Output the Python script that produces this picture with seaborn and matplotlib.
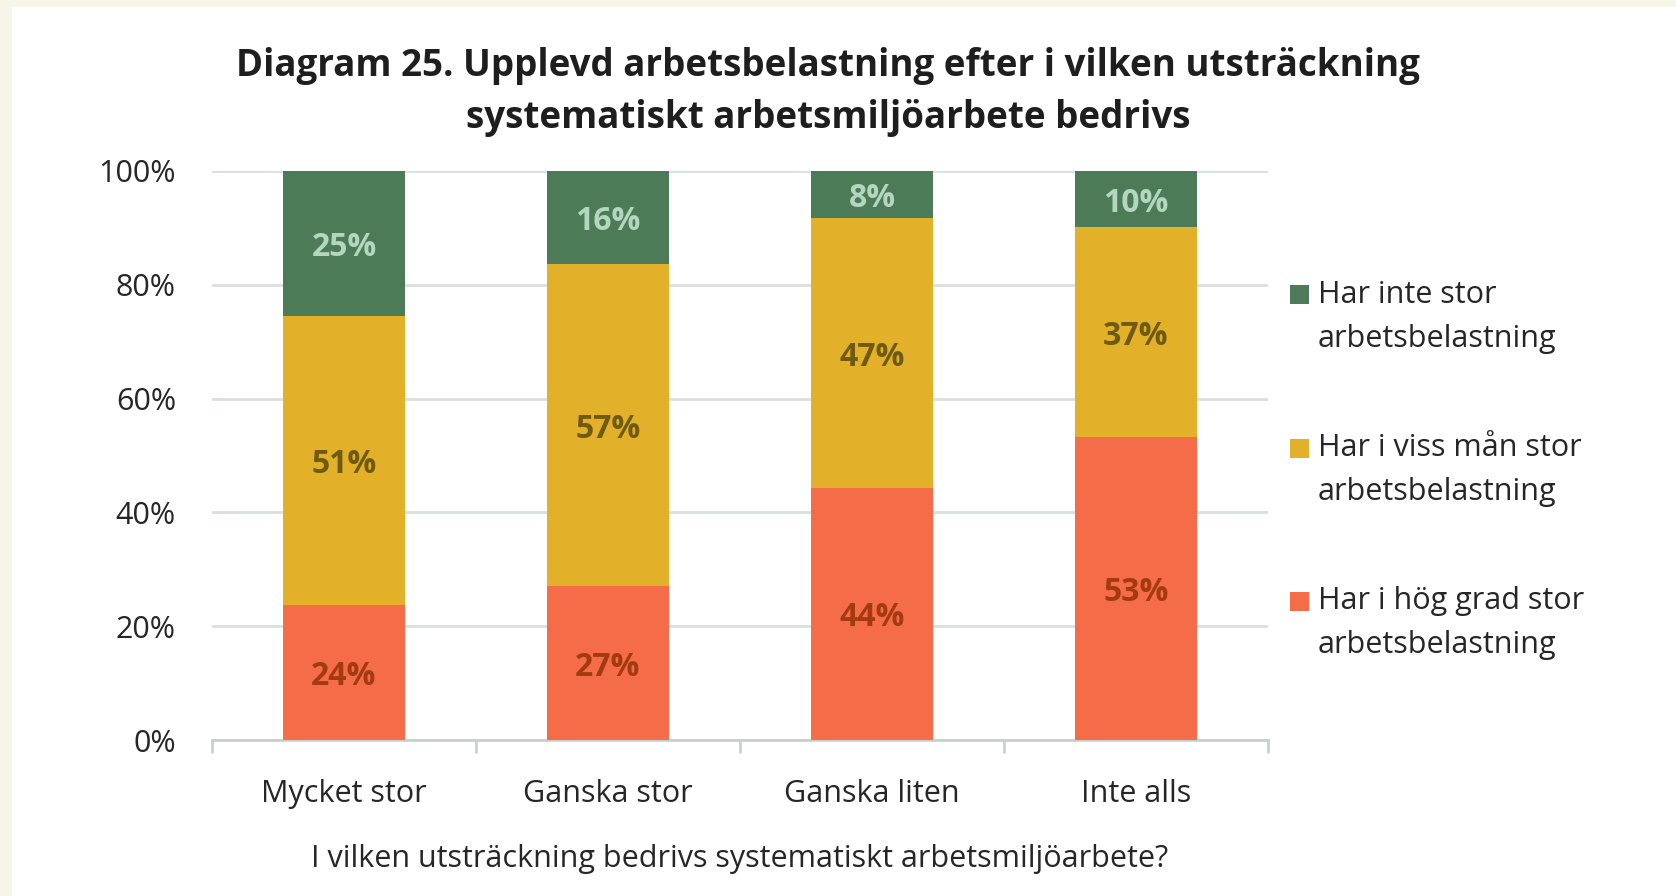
import matplotlib
matplotlib.use("Agg")
import matplotlib.pyplot as plt
import matplotlib.transforms as mtransforms
import seaborn as sns
import pandas as pd
import numpy as np
from matplotlib.patches import Rectangle
from matplotlib.ticker import FixedLocator

categories = ["Mycket stor", "Ganska stor", "Ganska liten", "Inte alls"]
hog_grad = [23.8, 27.0, 44.3, 53.3]      # Har i hög grad stor arbetsbelastning
viss_man = [50.8, 56.7, 47.4, 36.8]      # Har i viss mån stor arbetsbelastning
inte_stor = [25.4, 16.3, 8.3, 9.9]       # Har inte stor arbetsbelastning
series_names = ["Har inte stor\narbetsbelastning",
                "Har i viss mån stor\narbetsbelastning",
                "Har i hög grad stor\narbetsbelastning"]
yticks = [0, 20, 40, 60, 80, 100]
ytick_labels = ["0%", "20%", "40%", "60%", "80%", "100%"]
title_lines = ["Diagram 25. Upplevd arbetsbelastning efter i vilken utsträckning",
               "systematiskt arbetsmiljöarbete bedrivs"]
xlabel = "I vilken utsträckning bedrivs systematiskt arbetsmiljöarbete?"

GREEN, YELLOW, ORANGE = "#4E7B57", "#E2B029", "#F56C48"
LBL_GREEN, LBL_YELLOW, LBL_ORANGE = "#B2D6BE", "#6E5A10", "#A33A10"
TXT = "#262626"
GRID = "#D9DFDF"

sns.set_theme(style="white")
plt.rcParams["font.family"] = ["Open Sans", "DejaVu Sans"]

W, H = 1676, 896
fig = plt.figure(figsize=(W / 100, H / 100), dpi=100)
fig.patch.set_facecolor("#F7F4E8")
# white panel
fig.patches.append(Rectangle((12 / W, 0), 1 - 12 / W, 1 - 7 / H, transform=fig.transFigure,
                             facecolor="white", edgecolor="none", zorder=-5))

ax = fig.add_axes([212 / W, 1 - 740 / H, (1268 - 212) / W, (740 - 171) / H])
ax.set_facecolor("none")

df = pd.DataFrame({"cat": categories, "hog": hog_grad, "viss": viss_man, "inte": inte_stor})
df["c1"] = df["hog"]
df["c2"] = df["hog"] + df["viss"]
df["c3"] = df["c2"] + df["inte"]

bw = 0.46
sns.barplot(data=df, x="cat", y="c3", color=GREEN, width=bw, saturation=1, ax=ax, zorder=3)
sns.barplot(data=df, x="cat", y="c2", color=YELLOW, width=bw, saturation=1, ax=ax, zorder=3)
sns.barplot(data=df, x="cat", y="c1", color=ORANGE, width=bw, saturation=1, ax=ax, zorder=3)
for p in ax.patches:
    p.set_edgecolor("none")
    p.set_linewidth(0)

shift = mtransforms.ScaledTranslation(0, -4 / 100, fig.dpi_scale_trans)
for i in range(len(categories)):
    segs = [(0, df["hog"][i], LBL_ORANGE),
            (df["c1"][i], df["viss"][i], LBL_YELLOW),
            (df["c2"][i], df["inte"][i], LBL_GREEN)]
    for bottom, val, col in segs:
        ax.text(i, bottom + val / 2, f"{val:.0f}%", ha="center", va="center",
                fontsize=23, fontweight="bold", color=col, zorder=5,
                transform=ax.transData + shift)

ax.set_xlim(-0.5, len(categories) - 0.5)
ax.set_ylim(0, 100)
ax.set_yticks(yticks)
ax.set_yticklabels(ytick_labels)
ax.yaxis.grid(True, color=GRID, linewidth=2, zorder=0)
ax.set_axisbelow(True)
for s in ["top", "right", "left"]:
    ax.spines[s].set_visible(False)
ax.spines["bottom"].set_color("#C9D0D0")
ax.spines["bottom"].set_linewidth(2)
ax.tick_params(axis="y", length=0, pad=26, labelsize=22, labelcolor=TXT)
ax.tick_params(axis="x", which="major", length=0, pad=28, labelsize=22, labelcolor=TXT)
ax.xaxis.set_minor_locator(FixedLocator(np.arange(-0.5, len(categories), 1.0)))
ax.tick_params(axis="x", which="minor", length=9, width=2, color="#C9D0D0", direction="out",
               bottom=True)
ax.set_xlabel(xlabel, fontsize=22, color=TXT, labelpad=25)
ax.set_ylabel("")

fig.text(828 / W, 1 - 66 / H, title_lines[0], ha="center", va="center",
         fontsize=26.5, fontweight="bold", color="#1E1E1E")
fig.text(828 / W, 1 - 118 / H, title_lines[1], ha="center", va="center",
         fontsize=26.5, fontweight="bold", color="#1E1E1E")

# legend
leg_colors = [GREEN, YELLOW, ORANGE]
leg_y = [295, 448, 601]
for name, col, y in zip(series_names, leg_colors, leg_y):
    fig.patches.append(Rectangle((1290 / W, 1 - (y + 9.5) / H), 19 / W, 19 / H,
                                 transform=fig.transFigure, facecolor=col,
                                 edgecolor="none", zorder=3))
    l1, l2 = name.split("\n")
    fig.text(1318 / W, 1 - y / H, l1, ha="left", va="center", fontsize=22, color=TXT)
    fig.text(1318 / W, 1 - (y + 44) / H, l2, ha="left", va="center", fontsize=22, color=TXT)

fig.savefig("out.png", dpi=100, facecolor=fig.get_facecolor())
